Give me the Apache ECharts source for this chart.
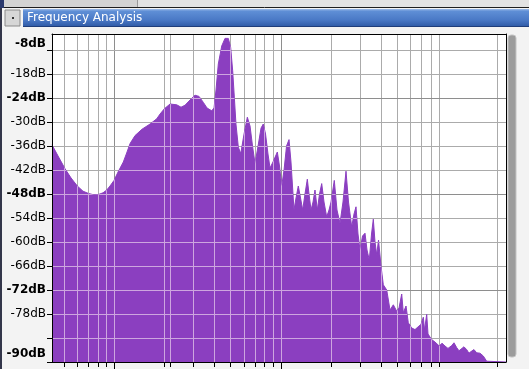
<!DOCTYPE html>
<html><head><meta charset="utf-8">
<script src="https://cdn.jsdelivr.net/npm/echarts@6/dist/echarts.min.js"></script>
<style>html,body{margin:0;padding:0;background:#f3f3f3}#c{width:529px;height:369px}</style>
</head><body><div id="c"></div>
<script>
// ---- data ----
const windowTitle = 'Frequency Analysis';
const freqMin = 42.4, freqMax = 22620;
const dbMin = -90, dbMax = -8;

const spectrumFreqHz = [
  42.4, 46.1, 50.8, 55.2, 60.2, 65.1, 70.5, 75.8, 80.9, 85.9,
  90.4, 94.6, 100, 105.7, 113.7, 119.7, 124.8, 133.7, 147.3, 164.6,
  180.5, 189, 200.5, 217, 238, 252.6, 267, 286, 306.5, 324,
  344, 362, 386.3, 398.7, 409.8, 423, 443.5, 464, 475, 486,
  502, 516, 528, 540, 558, 577, 604, 632, 656, 679,
  703, 733, 764, 788, 813, 841, 865, 901, 957, 986,
  1017, 1050, 1087, 1125, 1156, 1205, 1239, 1279, 1319, 1359,
  1403, 1449, 1483, 1525, 1568, 1611, 1664, 1715, 1768, 1825,
  1894, 1956, 2011, 2104, 2184, 2277, 2373, 2474, 2561, 2677,
  2764, 2841, 2921, 3003, 3109, 3218, 3308, 3415, 3521, 3610,
  3695, 3783, 3879, 4015, 4145, 4345, 4547, 4760, 4873, 4989,
  5150, 5346, 5466, 5674, 5857, 6139, 6426, 6791, 6982, 7208,
  7328, 7555, 7692, 8093, 8471, 8989, 9333, 9727, 10140, 10672,
  11017, 11436, 11804, 12135, 12650, 13132, 13555, 13936, 14527, 15081,
  15460, 15785, 16522, 17317, 17631, 22620
];
const spectrumDb = [
  -35.7, -38.5, -41.7, -44, -46, -47.3, -47.9, -48.2, -48.1, -47.7,
  -47, -46, -44.6, -42.5, -40, -37.5, -35.4, -33.4, -31.8, -30.5,
  -29.2, -28, -26.7, -25.5, -25.7, -26.3, -25.8, -24.5, -23.3, -23.6,
  -25.1, -26.5, -27.2, -26.5, -22, -15.5, -11, -9.1, -8.8, -9.1,
  -11.4, -17.2, -23.8, -30.5, -36.3, -37.9, -33, -28.8, -31, -36,
  -40.4, -36, -31.5, -30.5, -33, -38, -41.5, -40, -37.5, -41,
  -46, -42, -36, -34.4, -40, -52, -49, -46, -49, -52,
  -48, -44.3, -48, -52, -50, -47, -52, -48, -45.4, -50,
  -53.7, -52, -50, -44.6, -52, -55.3, -50, -42.3, -50, -56.2,
  -53, -51.2, -58, -62, -58.5, -57.8, -62, -64.5, -58, -54.3,
  -60, -63.2, -59.5, -66, -70.7, -72, -77, -75.7, -75.2, -77.3,
  -76.5, -73, -77.7, -76, -80.2, -81.5, -81.9, -81, -80.6, -78.8,
  -82, -78.1, -83, -84.4, -85, -86, -85.3, -86, -86.6, -85.9,
  -85.2, -86.4, -87.2, -86.8, -86.2, -86.9, -87.8, -87.4, -86.9, -87.7,
  -88.2, -87.8, -88.5, -89.8, -90, -90
];

const gridFreqs = [50, 60, 70, 80, 90, 100, 200, 217, 300, 400, 500, 600, 700, 800, 900,
                   1000, 2000, 3000, 4000, 5000, 6000, 7000, 8000, 9000, 20000];
const majorFreqs = [100, 1000];
const gridLevels = [-12, -18, -24, -30, -36, -42, -48, -54, -60, -66, -72, -78, -84];
const majorLevels = [-24, -48, -72];
const yTickValues = [-90, -84, -78, -72, -66, -60, -54, -48, -42, -36, -30, -24, -18, -12];
const yLabelValues = [-8, -18, -24, -30, -36, -42, -48, -54, -60, -66, -72, -78, -90];
const yLabelTexts = ['-8dB', '-18dB', '-24dB', '-30dB', '-36dB', '-42dB', '-48dB', '-54dB',
                     '-60dB', '-66dB', '-72dB', '-78dB', '-90dB'];
const yBoldValues = [-8, -24, -48, -72, -90];

// ---- styles ----
const PURPLE = '#8b3fc0';
const GRID_GRAY = '#ababab', GRID_GRAY_MAJOR = '#8e8e8e';
const GRID_LIGHT = '#cda6df';
const FONT = 'DejaVu Sans';

const chart = echarts.init(document.getElementById('c'), null, {renderer: 'canvas', width: 529, height: 369});

function buildGridLines(api, light) {
  const children = [];
  const pBL = api.coord([freqMin, dbMin]);
  const pTR = api.coord([freqMax, dbMax]);
  const yBot = pBL[1], yTop = pTR[1], xL = pBL[0], xR = pTR[0];
  gridFreqs.forEach(f => {
    const x = Math.round(api.coord([f, dbMin])[0]) + 0.5;
    const major = majorFreqs.indexOf(f) >= 0;
    children.push({type: 'line', silent: true,
      shape: {x1: x, y1: yTop, x2: x, y2: yBot},
      style: {stroke: light ? GRID_LIGHT : (major ? GRID_GRAY_MAJOR : GRID_GRAY), lineWidth: 1}});
    if (!light) {
      children.push({type: 'line', silent: true,
        shape: {x1: x, y1: Math.round(yBot), x2: x, y2: Math.round(yBot) + (major ? 7 : 5)},
        style: {stroke: '#000', lineWidth: 1}});
    }
  });
  gridLevels.forEach(l => {
    const y = Math.round(api.coord([freqMin, l])[1]) + 0.5;
    const major = majorLevels.indexOf(l) >= 0;
    children.push({type: 'line', silent: true,
      shape: {x1: xL, y1: y, x2: xR, y2: y},
      style: {stroke: light ? GRID_LIGHT : (major ? GRID_GRAY_MAJOR : GRID_GRAY), lineWidth: 1}});
  });
  return children;
}

const labelBase = {fontFamily: FONT, fontSize: 12, color: '#000'};

const option = {
  backgroundColor: '#f3f3f3',
  animation: false,
  grid: {left: 52, top: 34, right: 23, bottom: 7, show: true, backgroundColor: '#ffffff', borderWidth: 0},
  xAxis: [
    {type: 'log', logBase: 10, min: freqMin, max: freqMax, z: 10,
     axisLine: {show: true, lineStyle: {color: '#000', width: 1}},
     axisTick: {show: false}, axisLabel: {show: false}, splitLine: {show: false}, minorSplitLine: {show: false}},
    {type: 'value', position: 'top', min: 0, max: 1, z: 10,
     axisLine: {show: true, lineStyle: {color: '#000', width: 1}},
     axisTick: {show: false}, axisLabel: {show: false}, splitLine: {show: false}}
  ],
  yAxis: [
    {type: 'value', min: dbMin, max: dbMax, interval: 6, z: 10,
     axisLine: {show: true, lineStyle: {color: '#000', width: 1}},
     axisTick: {show: true, length: 5, lineStyle: {color: '#000', width: 1}, customValues: yTickValues},
     splitLine: {show: false},
     axisLabel: {
       show: true, margin: 6, showMinLabel: true, showMaxLabel: true,
       customValues: yLabelValues,
       formatter: function (v) {
         const i = yLabelValues.indexOf(v);
         if (i < 0) return '';
         let st = yBoldValues.indexOf(v) >= 0 ? 'b' : 'n';
         if (v === dbMax) st = 't';
         if (v === dbMin) st = 'e';
         return '{' + st + '|' + yLabelTexts[i] + '}';
       },
       rich: {
         n: Object.assign({}, labelBase),
         b: Object.assign({fontWeight: 'bold'}, labelBase),
         t: Object.assign({fontWeight: 'bold', padding: [20, 0, 0, 0]}, labelBase),
         e: Object.assign({fontWeight: 'bold', padding: [0, 0, 16, 0]}, labelBase)
       }
     }},
    {type: 'value', position: 'right', min: 0, max: 1, z: 10,
     axisLine: {show: true, lineStyle: {color: '#000', width: 1}},
     axisTick: {show: false}, axisLabel: {show: false}, splitLine: {show: false}}
  ],
  series: [
    {type: 'custom', name: 'gridUnder', z: 1, silent: true, clip: false,
     xAxisIndex: 0, yAxisIndex: 0,
     data: [[freqMin, dbMin]],
     renderItem: function (params, api) {
       return {type: 'group', children: buildGridLines(api, false)};
     }},
    {type: 'line', name: 'spectrum', z: 2, silent: true, showSymbol: false, symbol: 'none',
     xAxisIndex: 0, yAxisIndex: 0,
     data: spectrumFreqHz.map((f, i) => [f, spectrumDb[i]]),
     lineStyle: {color: PURPLE, width: 1},
     itemStyle: {color: PURPLE},
     areaStyle: {color: PURPLE, opacity: 1, origin: 'start'}},
    {type: 'custom', name: 'gridOver', z: 3, silent: true, clip: false,
     xAxisIndex: 0, yAxisIndex: 0,
     data: [[freqMin, dbMin]],
     renderItem: function (params, api) {
       const pts = spectrumFreqHz.map((f, i) => api.coord([f, spectrumDb[i]]));
       pts.push(api.coord([freqMax, dbMin]));
       pts.push(api.coord([freqMin, dbMin]));
       return {type: 'group', children: buildGridLines(api, true),
               clipPath: {type: 'polygon', shape: {points: pts}}};
     }}
  ],
  graphic: [
    // top strip
    {type: 'rect', shape: {x: 0, y: 0, width: 529, height: 7}, style: {fill: '#d3d3d3'}, silent: true},
    {type: 'rect', shape: {x: 138, y: 0, width: 391, height: 7}, style: {fill: '#e2e2e2'}, silent: true},
    {type: 'line', shape: {x1: 137.5, y1: 0, x2: 137.5, y2: 7}, style: {stroke: '#9a9a9a', lineWidth: 1}, silent: true},
    {type: 'line', shape: {x1: 0, y1: 7.5, x2: 529, y2: 7.5}, style: {stroke: '#1e1e1e', lineWidth: 1}, silent: true},
    {type: 'rect', shape: {x: 0, y: 0, width: 4, height: 8}, style: {fill: '#2b3a6e'}, silent: true},
    // left dark edge
    {type: 'rect', shape: {x: 0, y: 8, width: 2, height: 361}, style: {fill: '#33364a'}, silent: true},
    // title bar
    {type: 'rect', shape: {x: 23, y: 9, width: 506, height: 18},
     style: {fill: new echarts.graphic.LinearGradient(0, 0, 0, 1, [
       {offset: 0, color: '#9dbbe8'}, {offset: 0.12, color: '#5f8fd6'},
       {offset: 0.6, color: '#4a79c6'}, {offset: 1, color: '#2d58a4'}])}, silent: true},
    {type: 'line', shape: {x1: 23, y1: 26.5, x2: 529, y2: 26.5}, style: {stroke: '#1f3d7a', lineWidth: 1}, silent: true},
    {type: 'rect', shape: {x: 5, y: 10, width: 15, height: 16},
     style: {fill: '#d6d6d6', stroke: '#8a8a8a', lineWidth: 1}, silent: true},
    {type: 'rect', shape: {x: 12, y: 17, width: 2, height: 2}, style: {fill: '#333'}, silent: true},
    {type: 'text', x: 27, y: 18, silent: true,
     style: {text: windowTitle, fill: '#ffffff', font: '12px "DejaVu Sans"', textVerticalAlign: 'middle', verticalAlign: 'middle'}},
    // scrollbar
    {type: 'rect', shape: {x: 508, y: 35, width: 8, height: 322, r: 3},
     style: {fill: '#9c9c9c', stroke: '#c4c4c4', lineWidth: 1}, silent: true}
  ]
};
chart.setOption(option);
</script>
</body></html>
